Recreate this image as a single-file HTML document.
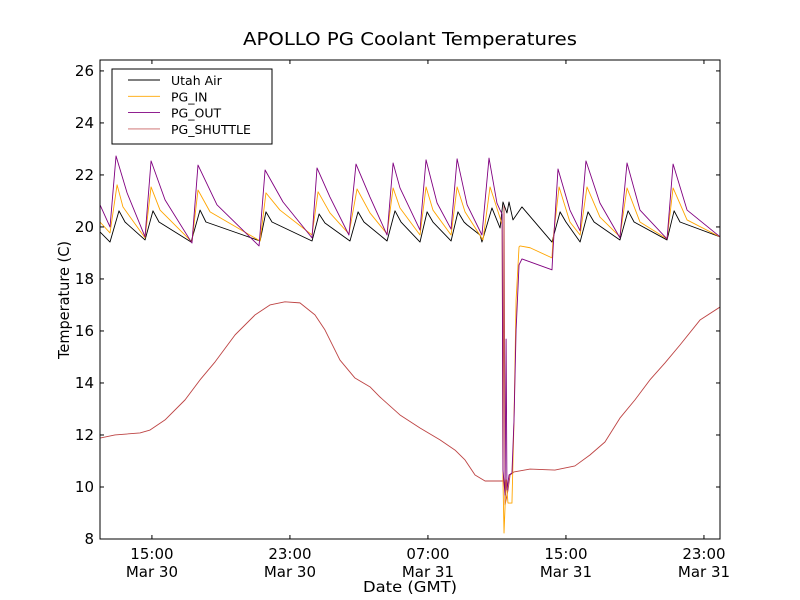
<!DOCTYPE html>
<html><head><meta charset="utf-8"><style>
body{margin:0;background:#fff;}
svg{display:block;font-family:"DejaVu Sans","Liberation Sans",sans-serif;}
</style></head><body>
<svg id="chart" width="800" height="600" viewBox="0 0 800 600">
<rect x="0" y="0" width="800" height="600" fill="#fff"/>
<text x="410" y="45" font-size="18" text-anchor="middle" textLength="334" lengthAdjust="spacingAndGlyphs">APOLLO PG Coolant Temperatures</text>
<text x="410" y="592" font-size="15" text-anchor="middle" textLength="94" lengthAdjust="spacingAndGlyphs">Date (GMT)</text>
<text x="0" y="0" font-size="15" text-anchor="middle" textLength="118" lengthAdjust="spacingAndGlyphs" transform="translate(69,300) rotate(-90)">Temperature (C)</text>
<g id="plot"></g>
<g id="axes"></g>
<g id="legend"></g>
</svg>
<script>
const xTicks = [15, 23, 31, 39, 47];
const xTickTimes = ["15:00", "23:00", "07:00", "15:00", "23:00"];
const xTickDates = ["Mar 30", "Mar 30", "Mar 31", "Mar 31", "Mar 31"];
const yTicks = [8, 10, 12, 14, 16, 18, 20, 22, 24, 26];
const seriesNames = ["Utah Air", "PG_IN", "PG_OUT", "PG_SHUTTLE"];
const utahAir = [[11.99,19.81],[12.57,19.42],[13.09,20.62],[13.44,20.19],[14.60,19.50],[15.06,20.62],[15.41,20.19],[17.27,19.42],[17.79,20.65],[18.13,20.19],[21.27,19.46],[21.61,20.58],[21.96,20.19],[24.28,19.46],[24.69,20.5],[25.03,20.15],[26.48,19.46],[26.95,20.58],[27.29,20.19],[28.63,19.46],[29.09,20.62],[29.44,20.19],[30.54,19.42],[30.95,20.58],[31.29,20.19],[32.34,19.46],[32.74,20.58],[33.09,20.19],[33.27,20.08],[34.02,19.69],[34.13,19.42],[34.71,20.73],[35.18,19.96],[35.35,20.96],[35.58,20.54],[35.70,20.96],[35.93,20.27],[36.45,20.77],[38.19,19.42],[38.66,20.58],[39.00,20.19],[39.82,19.42],[40.28,20.58],[40.63,20.19],[42.13,19.50],[42.60,20.62],[42.95,20.19],[44.86,19.50],[45.27,20.62],[45.61,20.19],[47.93,19.62]];
const pgIn = [[11.99,20.19],[12.57,19.77],[12.98,21.62],[13.32,20.77],[14.60,19.58],[14.95,21.54],[15.47,20.65],[17.32,19.42],[17.67,21.42],[18.37,20.58],[21.27,19.46],[21.61,21.31],[22.42,20.65],[24.28,19.69],[24.63,21.35],[25.32,20.54],[26.42,19.73],[26.89,21.46],[27.64,20.54],[28.63,19.73],[28.98,21.50],[29.38,20.73],[30.54,19.69],[30.89,21.54],[31.29,20.65],[32.34,19.69],[32.69,21.54],[33.15,20.58],[34.19,19.5],[34.60,21.54],[35.18,20.35],[35.30,20.08],[35.35,10.27],[35.41,8.23],[35.53,10.27],[35.64,9.38],[35.87,9.38],[35.99,12.58],[36.11,17.19],[36.28,19.23],[36.34,19.27],[36.92,19.2],[38.19,18.81],[38.25,19.5],[38.60,21.54],[39.23,20.19],[39.82,19.69],[40.22,21.54],[40.97,20.38],[42.13,19.62],[42.54,21.50],[43.29,20.19],[44.86,19.54],[45.21,21.50],[46.02,20.27],[47.93,19.62]];
const pgOut = [[11.99,20.85],[12.57,20.0],[12.92,22.73],[13.56,21.31],[14.60,19.62],[14.95,22.54],[15.76,21.04],[17.32,19.38],[17.67,22.38],[18.77,20.85],[21.21,19.27],[21.56,22.19],[22.60,20.96],[24.28,19.58],[24.57,22.27],[25.32,21.15],[26.42,19.69],[26.83,22.42],[27.64,21.15],[28.63,19.69],[28.98,22.46],[29.38,21.50],[30.54,19.88],[30.89,22.58],[31.53,20.92],[32.34,19.92],[32.69,22.62],[33.27,20.85],[34.13,19.69],[34.54,22.65],[35.00,20.92],[35.18,20.65],[35.30,20.5],[35.35,10.65],[35.47,9.69],[35.53,15.69],[35.58,9.88],[35.70,10.46],[35.87,10.54],[35.99,12.58],[36.11,16.04],[36.28,18.54],[36.45,18.77],[38.19,18.35],[38.25,19.12],[38.54,22.23],[39.23,20.65],[39.82,19.85],[40.16,22.54],[40.97,20.92],[42.13,19.58],[42.54,22.46],[43.29,20.65],[44.86,19.54],[45.21,22.42],[46.02,20.65],[47.93,19.62]];
const pgShuttle = [[11.99,11.88],[12.86,12.0],[14.31,12.08],[14.89,12.19],[15.76,12.58],[16.92,13.35],[17.79,14.12],[18.66,14.81],[19.82,15.85],[20.98,16.62],[21.84,17.0],[22.71,17.12],[23.58,17.08],[24.45,16.62],[25.03,16.04],[25.90,14.88],[26.77,14.19],[27.64,13.85],[28.22,13.46],[29.38,12.77],[30.54,12.27],[31.70,11.81],[32.57,11.42],[33.15,11.04],[33.73,10.46],[34.31,10.23],[35.35,10.23],[35.41,20.85],[35.47,9.31],[35.64,9.88],[35.76,10.46],[35.99,10.58],[36.92,10.69],[38.36,10.65],[39.52,10.81],[40.39,11.23],[41.26,11.73],[42.13,12.65],[43.00,13.35],[43.87,14.12],[44.74,14.77],[45.61,15.46],[46.77,16.42],[47.93,16.92]];

const NS = "http://www.w3.org/2000/svg";
const L = 100, R = 720, T = 60, B = 539;
const X0 = 11.99, X1 = 47.93, Y0 = 8, Y1 = 26.42;
function sx(h){ return L + (h - X0) / (X1 - X0) * (R - L); }
function sy(v){ return B - (v - Y0) / (Y1 - Y0) * (B - T); }
function mk(tag, attrs, parent){
  const e = document.createElementNS(NS, tag);
  for (const k in attrs) e.setAttribute(k, attrs[k]);
  parent.appendChild(e);
  return e;
}
const plot = document.getElementById("plot");
const axes = document.getElementById("axes");
const legend = document.getElementById("legend");

const defs = mk("defs", {}, plot);
const cp = mk("clipPath", {id: "clip"}, defs);
mk("rect", {x: L, y: T, width: R - L, height: B - T}, cp);

const seriesData = [utahAir, pgIn, pgOut, pgShuttle];
const colors = ["#000000", "#ffa500", "#800080", "#b22222"];
const keys = ["utah-air", "pg-in", "pg-out", "pg-shuttle"];
const order = [3, 0, 1, 2];
order.forEach(i => {
  const d = seriesData[i].map((p, j) => (j ? "L" : "M") + sx(p[0]).toFixed(2) + " " + sy(p[1]).toFixed(2)).join(" ");
  const p = mk("path", {d: d, fill: "none", stroke: colors[i], "stroke-width": 0.9, "stroke-linejoin": "round", "clip-path": "url(#clip)", opacity: i === 3 ? 0.85 : 1}, plot);
  
  
});

const fr = mk("rect", {x: L, y: T, width: R - L, height: B - T, fill: "none", stroke: "#000", "stroke-width": 1}, axes);



xTicks.forEach((h, i) => {
  const x = sx(h);
  mk("line", {x1: x, y1: B, x2: x, y2: B - 4, stroke: "#000"}, axes);
  mk("line", {x1: x, y1: T, x2: x, y2: T + 4, stroke: "#000"}, axes);
  const t = mk("text", {x: x, y: B + 20, "font-size": 15, "text-anchor": "middle"}, axes);
  t.textContent = xTickTimes[i];
  
  
  const t2 = mk("text", {x: x, y: B + 38, "font-size": 15, "text-anchor": "middle"}, axes);
  t2.textContent = xTickDates[i];
  
  
});
yTicks.forEach(v => {
  const y = sy(v);
  mk("line", {x1: L, y1: y, x2: L + 4, y2: y, stroke: "#000"}, axes);
  mk("line", {x1: R, y1: y, x2: R - 4, y2: y, stroke: "#000"}, axes);
  const t = mk("text", {x: L - 6, y: y + 5, "font-size": 15, "text-anchor": "end"}, axes);
  t.textContent = String(v);
  
  
});

const lb = mk("rect", {x: 112, y: 69, width: 160, height: 75, fill: "#fff", stroke: "#000", "stroke-width": 1}, legend);


seriesNames.forEach((n, i) => {
  const y = 80 + i * 16.3;
  const ln = mk("line", {x1: 128, y1: y, x2: 160, y2: y, stroke: colors[i], "stroke-width": 0.9, opacity: i === 3 ? 0.7 : 1}, legend);
  
  
  const t = mk("text", {x: 171, y: y + 5, "font-size": 12.5}, legend);
  t.textContent = n;
  
  
});
</script>
</body></html>
